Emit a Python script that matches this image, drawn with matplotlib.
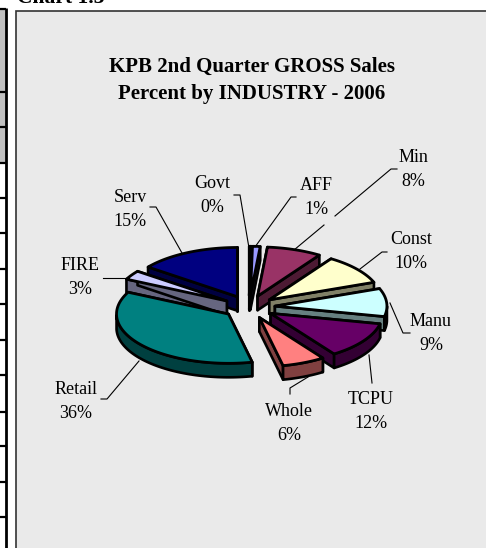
import numpy as np
import matplotlib
matplotlib.use("Agg")
import matplotlib.pyplot as plt
from matplotlib.patches import Polygon, Rectangle

# Slices, clockwise from 12 o'clock
industries = ["Govt", "AFF", "Min", "Const", "Manu", "TCPU", "Whole", "Retail", "FIRE", "Serv"]
shares = [0.3, 1.1, 7.9, 9.9, 9.2, 12.0, 6.2, 35.7, 3.0, 14.7]
percent_labels = ["0%", "1%", "8%", "10%", "9%", "12%", "6%", "36%", "3%", "15%"]
colors = ["#000000", "#9999FF", "#993366", "#FFFFCC", "#CCFFFF",
          "#660066", "#FF8080", "#008080", "#CCCCFF", "#000080"]

title_lines = ["KPB 2nd Quarter GROSS Sales", "Percent by INDUSTRY - 2006"]

# Pie shape in pixels
cx, cy = 249, 307
radius = 112
squash = 0.44
explode = 26
depth = 14

# label centre and leader line for each slice
label_pos = {
    "Govt": (212, 184), "AFF": (316, 185), "Min": (413, 157), "Const": (411, 240),
    "Manu": (431, 322), "TCPU": (371, 399), "Whole": (289, 412), "Retail": (76, 389),
    "FIRE": (80, 265), "Serv": (130, 198),
}
leaders = [
    [(234, 195), (240, 195), (249, 248)],
    [(296, 197), (291, 197), (255, 247)],
    [(397, 169), (391, 169), (335, 216)],
    [(324, 225), (294, 250)],
    [(387, 252), (382, 252), (360, 269)],
    [(410, 333), (403, 333), (390, 303)],
    [(372, 383), (369, 355)],
    [(290, 394), (290, 388), (308, 377)],
    [(101, 399), (107, 399), (139, 361)],
    [(103, 278), (127, 278)],
    [(150, 207), (156, 207), (182, 253)],
]

# left table row lines cut off by the crop
row_lines = [9, 92, 127, 163, 198, 233, 269, 304, 340, 375, 412, 446, 482, 517]

plt.rcParams["font.family"] = "Liberation Serif"

fig = plt.figure(figsize=(4.86, 5.48), dpi=100)
ax = fig.add_axes([0, 0, 1, 1])
ax.set_xlim(0, 486)
ax.set_ylim(548, 0)
ax.axis("off")

# Table fragment on the left
ax.add_patch(Rectangle((0, 9), 6, 154, facecolor="#C0C0C0", edgecolor="none"))
for y in row_lines:
    ax.plot([0, 6], [y, y], color="black", lw=1.6, solid_capstyle="butt")
ax.plot([6.3, 6.3], [8, 548], color="black", lw=2.0, solid_capstyle="butt")

# Chart area
ax.add_patch(Rectangle((16, 11), 480, 560, facecolor="#EAEAEA", edgecolor="#333333", lw=1.2))
ax.text(17, 3, "Chart 1.3", fontsize=15.5, fontweight="bold", ha="left", va="baseline", clip_on=True)

for line, y in zip(title_lines, [65, 93]):
    ax.text(252, y + 1.5, line, fontsize=15, fontweight="bold", ha="center", va="center")

# Slice angles
fractions = np.array(shares) / sum(shares)
ends = np.cumsum(fractions) * 2 * np.pi
starts = ends - fractions * 2 * np.pi
mids = (starts + ends) / 2


def rim(theta, ox, oy):
    return np.column_stack([ox + radius * np.sin(theta), oy - radius * squash * np.cos(theta)])


# Back slices first
for i in np.argsort(-np.cos(mids)):
    ox = cx + explode * np.sin(mids[i])
    oy = cy - explode * squash * np.cos(mids[i])
    theta = np.linspace(starts[i], ends[i], 80)
    arc = rim(theta, ox, oy)
    apex = np.array([[ox, oy]])
    down = np.array([0, depth])
    rgb = np.array(matplotlib.colors.to_rgb(colors[i]))
    dark = rgb * 0.5

    # cut faces
    for edge in [arc[0], arc[-1]]:
        quad = np.vstack([apex, [edge], [edge + down], apex + down])
        ax.add_patch(Polygon(quad, closed=True, facecolor=dark, edgecolor="black", lw=1.9, joinstyle="round"))

    # outer wall, only the part facing us
    front = arc[np.cos(theta) < 0]
    if len(front) > 1:
        wall = np.vstack([front, (front + down)[::-1]])
        ax.add_patch(Polygon(wall, closed=True, facecolor=dark, edgecolor="black", lw=1.9, joinstyle="round"))

    # top face
    top = np.vstack([apex, arc])
    ax.add_patch(Polygon(top, closed=True, facecolor=rgb, edgecolor="black", lw=2.0, joinstyle="round"))

# Leader lines
for pts in leaders:
    xs, ys = zip(*pts)
    ax.plot(xs, ys, color="black", lw=0.8)

# Labels
for name, pct in zip(industries, percent_labels):
    x, y = label_pos[name]
    ax.text(x, y, name, fontsize=13, ha="center", va="center")
    ax.text(x, y + 24, pct, fontsize=13, ha="center", va="center")

fig.savefig("out.png", dpi=100)
